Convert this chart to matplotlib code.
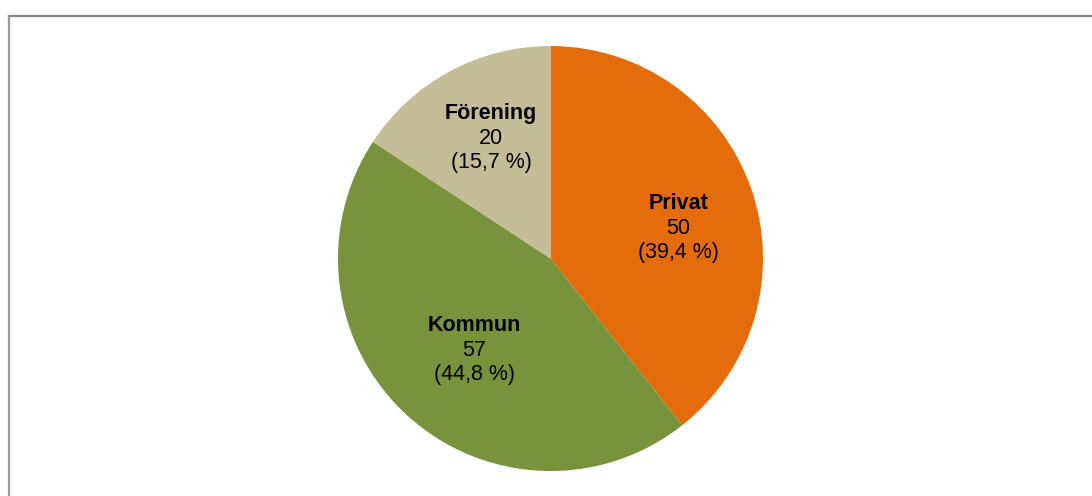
import matplotlib.pyplot as plt
from matplotlib.lines import Line2D

plt.rcParams['font.family'] = ['Liberation Sans', 'DejaVu Sans']

# data
categories = ['Privat', 'Kommun', 'Förening']
values = [50, 57, 20]
percent_labels = ['39,4 %', '44,8 %', '15,7 %']
colors = ['#E46C0A', '#77933C', '#C4BD97']

W, H = 1092, 496
fig = plt.figure(figsize=(W / 100, H / 100), dpi=100)

# pie in a square axes (pixel placement)
cx, cy, r = 550.5, 258.5, 212.5
ax = fig.add_axes([(cx - r) / W, (H - cy - r) / H, 2 * r / W, 2 * r / H])
wedges, _ = ax.pie(values, colors=colors, startangle=90, counterclock=False,
                   radius=1, wedgeprops=dict(linewidth=0))
ax.set_xlim(-1, 1)
ax.set_ylim(-1, 1)
ax.set_aspect('equal')
ax.axis('off')

# label block centres (data units of the pie, radius 1)
label_pos = [(0.60, 0.143), (-0.36, -0.431), (-0.28, 0.567)]
step = 0.115
for (x, y), name, v, p in zip(label_pos, categories, values, percent_labels):
    ax.text(x, y + step, name, ha='center', va='center', fontsize=15.5, fontweight='bold')
    ax.text(x, y, str(v), ha='center', va='center', fontsize=15.5)
    ax.text(x, y - step, '(' + p + ')', ha='center', va='center', fontsize=15.5)

# frame (top and left edges visible)
fig.add_artist(Line2D([8.5 / W, 1], [1 - 16 / H, 1 - 16 / H], color='#878787', lw=1.6))
fig.add_artist(Line2D([8.5 / W, 8.5 / W], [0, 1 - 16 / H], color='#999999', lw=1.6))

fig.savefig('out.png', dpi=100)
